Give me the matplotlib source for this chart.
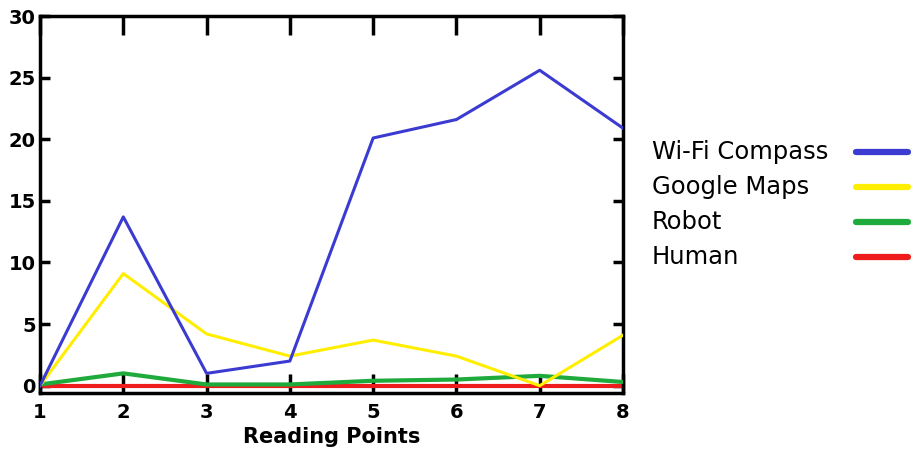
import matplotlib
matplotlib.use("Agg")
import matplotlib.pyplot as plt
from matplotlib.lines import Line2D

# Datos
points = [1, 2, 3, 4, 5, 6, 7, 8]
wifi_compass = [0.0, 13.7, 1.0, 2.0, 20.1, 21.6, 25.6, 20.9]
google_maps = [0.0, 9.1, 4.2, 2.4, 3.7, 2.4, 0.0, 4.1]
robot = [0.1, 1.0, 0.1, 0.1, 0.4, 0.5, 0.8, 0.3]
human = [0.0, 0.0, 0.0, 0.0, 0.0, 0.0, 0.0, 0.0]

labels = ["Wi-Fi Compass", "Google Maps", "Robot", "Human"]
colors = ["#3b3bd2", "#ffee00", "#1faa3c", "#ee1c1c"]

fig = plt.figure(figsize=(9.14, 4.63), dpi=100)
ax = fig.add_axes([0.0438, 0.151, 0.6378, 0.8144])

# Orden de dibujo: rojo debajo, azul encima
ax.plot(points, human, color=colors[3], lw=3, zorder=2)
ax.plot(points, robot, color=colors[2], lw=3, zorder=3)
ax.plot(points, google_maps, color=colors[1], lw=2.2, zorder=4)
ax.plot(points, wifi_compass, color=colors[0], lw=2.2, zorder=5)

ax.set_xlim(1, 8)
ax.set_ylim(-0.6, 30)
ax.set_xticks(points)
ax.set_yticks(range(0, 31, 5))

for s in ax.spines.values():
    s.set_linewidth(2.5)

ax.tick_params(axis="x", direction="in", length=14, width=2.5, top=True, pad=7)
ax.tick_params(axis="y", direction="in", length=7, width=2.5, right=True, pad=3)
for t in ax.get_xticklabels() + ax.get_yticklabels():
    t.set_fontsize(14)
    t.set_fontweight("bold")

ax.set_xlabel("Reading Points", fontsize=15, fontweight="bold", labelpad=4)

# Leyenda a la derecha: texto alineado a la izquierda, línea a la derecha
for i, (lab, col) in enumerate(zip(labels, colors)):
    y = 1 - (152 + 35 * i) / 463
    fig.text(652 / 914, y, lab, fontsize=17.5, ha="left", va="center")
    fig.add_artist(Line2D([856 / 914, 908 / 914], [y, y], color=col, lw=4.5,
                          solid_capstyle="round", transform=fig.transFigure))

fig.savefig("out.png", dpi=100)
